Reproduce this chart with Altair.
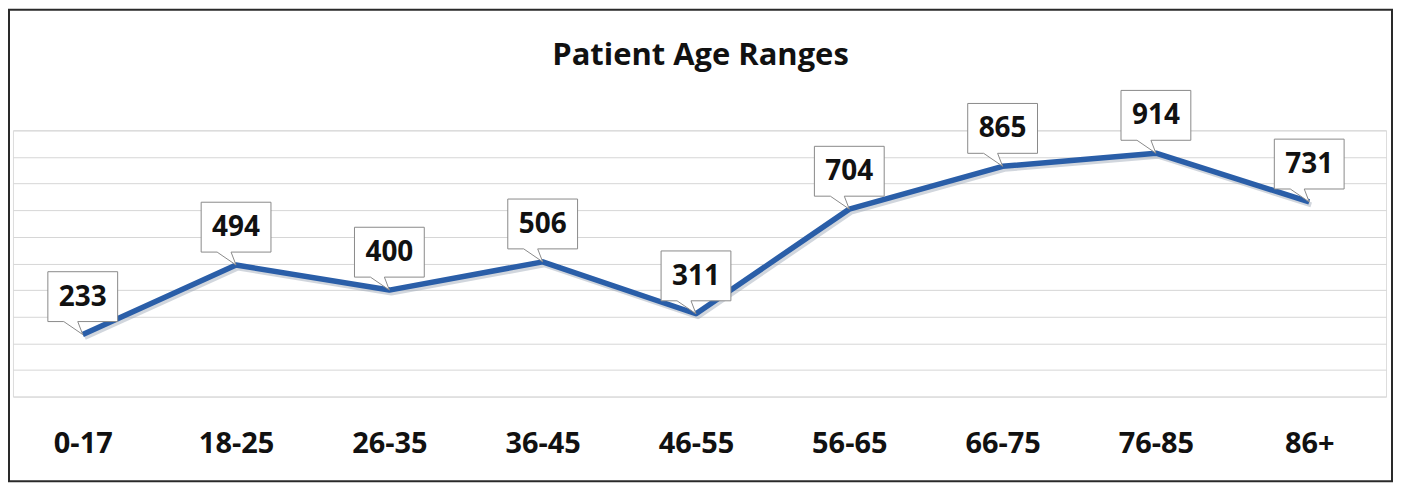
import altair as alt
import pandas as pd

categories = ["0-17", "18-25", "26-35", "36-45", "46-55", "56-65", "66-75", "76-85", "86+"]
patients = [233, 494, 400, 506, 311, 704, 865, 914, 731]
title_text = "Patient Age Ranges"

W, H = 1377, 267
FONT = "Open Sans"

df = pd.DataFrame({"age": categories, "count": patients})

x_enc = alt.X("age:N", sort=categories,
              scale=alt.Scale(type="point", padding=0.478, align=0.476),
              axis=alt.Axis(title=None, labelAngle=0, ticks=False, domain=False,
                            labelFont=FONT, labelFontSize=29, labelFontWeight="bold",
                            labelColor="#111111", labelPadding=33, grid=False))
y_enc = alt.Y("count:Q", scale=alt.Scale(domain=[0, 1000], nice=False, zero=True),
              axis=alt.Axis(title=None, labels=False, ticks=False, domain=False,
                            values=list(range(0, 1001, 100)), grid=True,
                            gridColor="#d6d6d6", gridWidth=1))

base = alt.Chart(df)

shadow = base.mark_line(color="#9aa4b4", strokeWidth=5, opacity=0.45,
                        strokeJoin="round").encode(
    x=x_enc, y=y_enc, xOffset=alt.value(2), yOffset=alt.value(3))

line = base.mark_line(color="#2A5EA8", strokeWidth=5.5, strokeJoin="round").encode(x=x_enc, y=y_enc)

callout_path = "M -35 -63 L 35 -63 L 35 -13 L -5 -13 L 0 0 L -19 -13 L -35 -13 Z"
boxes = base.mark_point(shape=callout_path, size=4, filled=True, fill="white",
                        stroke="#8a8a8a", strokeWidth=1, opacity=1).encode(
    x=x_enc, y=y_enc)

labels = base.mark_text(font=FONT, fontSize=28, fontWeight="bold", color="#111111",
                        baseline="middle", align="center", dy=-37).encode(
    x=x_enc, y=y_enc, text="count:Q")

frame_data = alt.Data(values=[{"t": title_text}])
frame = alt.Chart(frame_data).mark_rect(filled=False, stroke="#2a2a2a", strokeWidth=2).encode(
    x=alt.value(-4), x2=alt.value(W + 6), y=alt.value(-121), y2=alt.value(H + 85))

title = alt.Chart(frame_data).mark_text(font=FONT, fontSize=31, fontWeight="bold",
                                        color="#111111", baseline="alphabetic",
                                        align="center").encode(
    x=alt.value(W / 2 + 1), y=alt.value(-66), text="t:N")

chart = alt.layer(shadow, line, boxes, labels, frame, title).properties(
    width=W, height=H,
    autosize=alt.AutoSizeParams(type="none"),
    padding={"left": 5, "top": 122, "right": 8, "bottom": 87},
).configure_view(stroke=None).configure(background="white")

chart.save("out.html", embed_options={"renderer": "svg", "actions": False})
